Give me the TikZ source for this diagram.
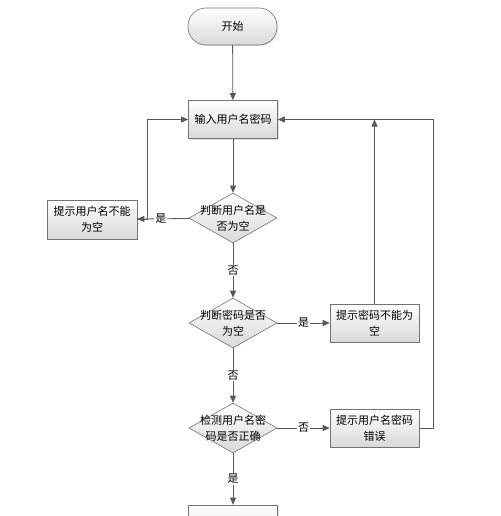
\documentclass[tikz,border=0pt]{standalone}
\usepackage{fontspec}
\newfontfamily\cjk{Noto Sans CJK SC}
\usetikzlibrary{arrows.meta,shapes.geometric,shadows}

\tikzset{
  flow/.style={draw=black!65, line width=0.8pt, -{Triangle[length=7pt,width=6pt]}},
  box/.style={draw=black!55, line width=0.6pt, top color=white, bottom color=black!15,
    minimum width=89pt, minimum height=38pt, inner sep=2pt, align=center,
    font=\cjk\fontsize{11}{16}\selectfont,
    drop shadow={opacity=0.25, shadow xshift=1pt, shadow yshift=-1pt}},
  terminal/.style={box, rounded corners=18pt, minimum height=37pt},
  judge/.style={diamond, aspect=1.76, draw=black!55, line width=0.6pt,
    top color=white, bottom color=black!15, minimum width=88pt, minimum height=50pt,
    inner sep=0pt},
  judgetext/.style={align=center, font=\cjk\fontsize{11}{16}\selectfont},
  yesno/.style={fill=white, inner sep=1pt, font=\cjk\fontsize{11}{12}\selectfont}
}

\begin{document}
\begin{tikzpicture}[x=1pt,y=-1pt]
\clip (0,0) rectangle (500,516);
\fill[white] (0,0) rectangle (500,516);

% 节点
\node[terminal] (start) at (232.5,26.5) {开始};
\node[box] (input) at (233,119.5) {输入用户名密码};
\node[judge, label={[judgetext]center:判断用户名是\\否为空}] (judge1) at (233,218) {};
\node[box, minimum width=90pt, minimum height=39pt] (tip1) at (92,219.5) {提示用户名不能\\为空};
\node[judge, label={[judgetext]center:判断密码是否\\为空}] (judge2) at (233,323) {};
\node[box] (tip2) at (374.5,323) {提示密码不能为\\空};
\node[judge, label={[judgetext]center:检测用户名密\\码是否正确}] (judge3) at (233,428) {};
\node[box] (tip3) at (374.5,428) {提示用户名密码\\错误};
\node[box] (next) at (233,524) {};

% 连线
\draw[flow] (start) -- (input);
\draw[flow] (input) -- (judge1);
\draw[flow] (judge1) -- node[yesno, pos=0.55] {是} (tip1);
\draw[flow] (tip1.east) -- ++(10,0) |- (input.west);
\draw[flow] (judge1) -- node[yesno] {否} (judge2);
\draw[flow] (judge2) -- node[yesno] {是} (tip2);
\coordinate (up2) at (tip2.north |- input.east);
\draw[flow] (tip2.north) -- (up2);
\draw[flow] (judge2) -- node[yesno] {否} (judge3);
\draw[flow] (judge3) -- node[yesno] {否} (tip3);
\draw[flow] (tip3.east) -- ++(14,0) |- (input.east);
\draw[flow] (judge3) -- node[yesno] {是} (next);
\end{tikzpicture}
\end{document}
